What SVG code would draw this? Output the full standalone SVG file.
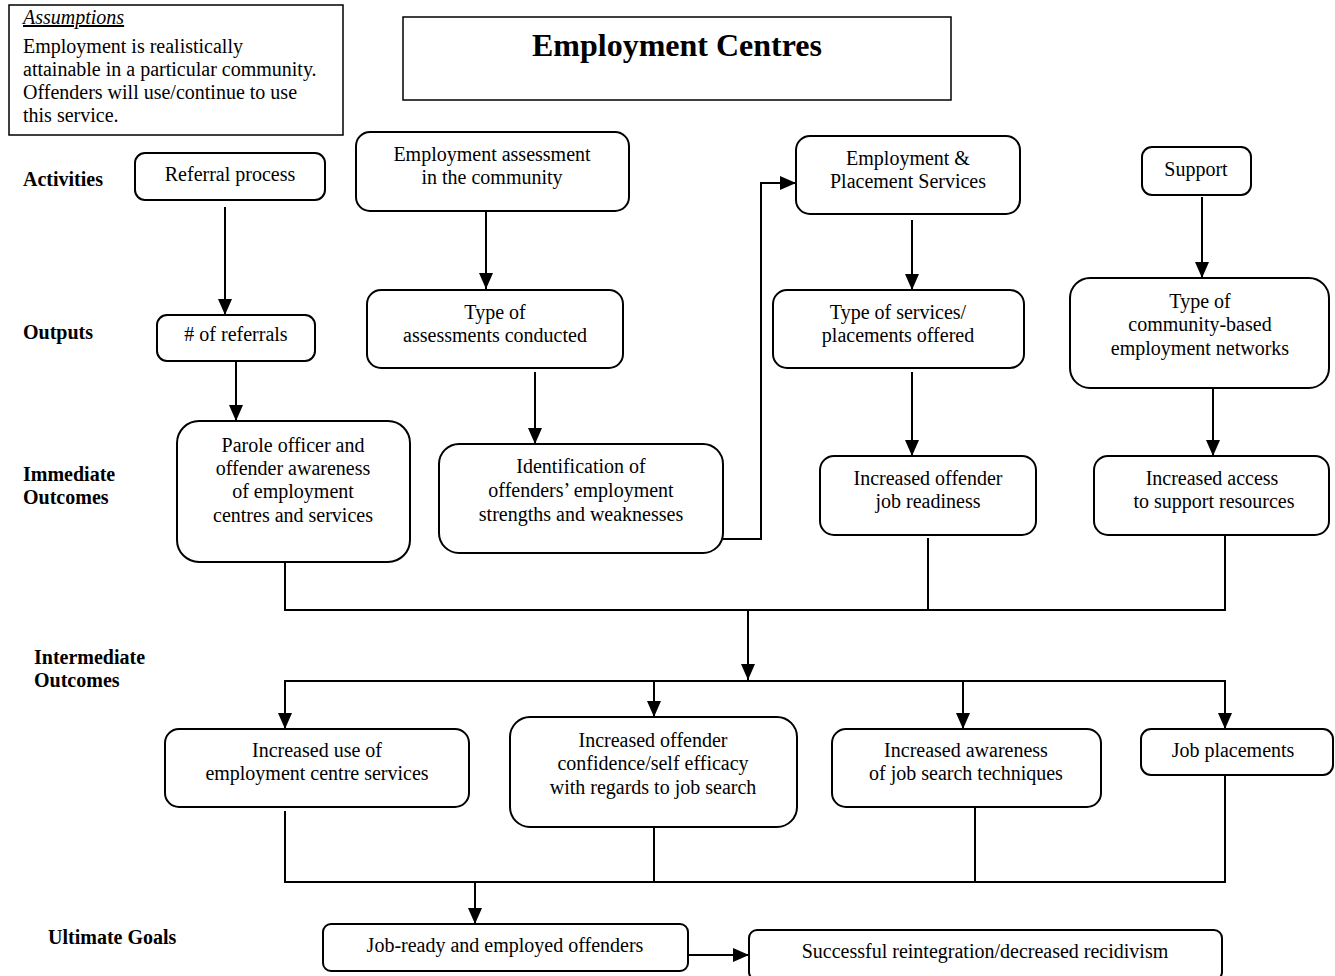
<svg xmlns="http://www.w3.org/2000/svg" width="1335" height="976" viewBox="0 0 1335 976">
<style>
.box{fill:#fff;stroke:#000;stroke-width:2}
.t{font-family:"Liberation Serif","Times New Roman",serif;font-size:20px;fill:#000;text-anchor:middle}
.a{font-family:"Liberation Serif","Times New Roman",serif;font-size:20px;fill:#000}
.lbl{font-family:"Liberation Serif","Times New Roman",serif;font-size:20px;font-weight:bold;fill:#000}
.ln{fill:none;stroke:#000;stroke-width:2}
</style>
<defs>
<marker id="ah" markerWidth="16" markerHeight="14" viewBox="0 0 16 14" refX="16" refY="7" orient="auto" markerUnits="userSpaceOnUse">
<path d="M0,0 L16,7 L0,14 Z" fill="#000"/>
</marker>
</defs>
<rect width="1335" height="976" fill="#fff"/>

<g id="assumptions">
<rect x="9" y="5" width="334" height="130" fill="#fff" stroke="#000" stroke-width="1.5"/>
<text class="a" x="23" y="24" style="font-style:italic;text-decoration:underline">Assumptions</text>
<text class="a" x="23" y="53">Employment is realistically</text>
<text class="a" x="23" y="76">attainable in a particular community.</text>
<text class="a" x="23" y="99">Offenders will use/continue to use</text>
<text class="a" x="23" y="122">this service.</text>
</g>

<g id="title">
<rect x="403" y="17" width="548" height="83" fill="#fff" stroke="#000" stroke-width="1.5"/>
<text x="677" y="56" style="font-family:'Liberation Serif',serif;font-size:32px;font-weight:bold;text-anchor:middle">Employment Centres</text>
</g>

<g id="row-labels">
<text class="lbl" x="23" y="186">Activities</text>
<text class="lbl" x="23" y="339">Outputs</text>
<text class="lbl" x="23" y="481">Immediate</text>
<text class="lbl" x="23" y="504">Outcomes</text>
<text class="lbl" x="34" y="664">Intermediate</text>
<text class="lbl" x="34" y="687">Outcomes</text>
<text class="lbl" x="48" y="944">Ultimate Goals</text>
</g>

<g id="connectors">
<line class="ln" x1="225" y1="207" x2="225" y2="315" marker-end="url(#ah)"/>
<line class="ln" x1="486" y1="211" x2="486" y2="289" marker-end="url(#ah)"/>
<line class="ln" x1="912" y1="220" x2="912" y2="290" marker-end="url(#ah)"/>
<line class="ln" x1="1202" y1="197" x2="1202" y2="278" marker-end="url(#ah)"/>
<line class="ln" x1="236" y1="361" x2="236" y2="421" marker-end="url(#ah)"/>
<line class="ln" x1="535" y1="372" x2="535" y2="444" marker-end="url(#ah)"/>
<line class="ln" x1="912" y1="372" x2="912" y2="456" marker-end="url(#ah)"/>
<line class="ln" x1="1213" y1="385" x2="1213" y2="456" marker-end="url(#ah)"/>
<polyline class="ln" points="723,539 761,539 761,183 796,183" marker-end="url(#ah)"/>
<polyline class="ln" points="285,562 285,610 1225,610 1225,535"/>
<line class="ln" x1="928" y1="538" x2="928" y2="610"/>
<line class="ln" x1="748" y1="610" x2="748" y2="680" marker-end="url(#ah)"/>
<line class="ln" x1="285" y1="681" x2="1225" y2="681"/>
<line class="ln" x1="285" y1="680" x2="285" y2="729" marker-end="url(#ah)"/>
<line class="ln" x1="654" y1="680" x2="654" y2="717" marker-end="url(#ah)"/>
<line class="ln" x1="963" y1="680" x2="963" y2="729" marker-end="url(#ah)"/>
<line class="ln" x1="1225" y1="680" x2="1225" y2="729" marker-end="url(#ah)"/>
<polyline class="ln" points="285,811 285,882 1225,882 1225,775"/>
<line class="ln" x1="654" y1="823" x2="654" y2="882"/>
<line class="ln" x1="975" y1="800" x2="975" y2="882"/>
<line class="ln" x1="475" y1="882" x2="475" y2="924" marker-end="url(#ah)"/>
<line class="ln" x1="688" y1="955" x2="749" y2="955" marker-end="url(#ah)"/>
</g>

<g id="referral-process">
<rect class="box" x="135" y="153" width="190" height="47" rx="10"/>
<text class="t" x="230" y="181">Referral process</text>
</g>
<g id="employment-assessment">
<rect class="box" x="356" y="132" width="273" height="79" rx="14"/>
<text class="t" x="492" y="161">Employment assessment</text>
<text class="t" x="492" y="184">in the community</text>
</g>
<g id="employment-placement">
<rect class="box" x="796" y="136" width="224" height="78" rx="14"/>
<text class="t" x="908" y="165">Employment &amp;</text>
<text class="t" x="908" y="188">Placement Services</text>
</g>
<g id="support">
<rect class="box" x="1142" y="147" width="109" height="48" rx="10"/>
<text class="t" x="1196" y="176">Support</text>
</g>

<g id="num-referrals">
<rect class="box" x="157" y="315" width="158" height="46" rx="10"/>
<text class="t" x="236" y="341"># of referrals</text>
</g>
<g id="type-assessments">
<rect class="box" x="367" y="290" width="256" height="78" rx="14"/>
<text class="t" x="495" y="319">Type of</text>
<text class="t" x="495" y="342">assessments conducted</text>
</g>
<g id="type-services">
<rect class="box" x="773" y="290" width="251" height="78" rx="14"/>
<text class="t" x="898" y="319">Type of services/</text>
<text class="t" x="898" y="342">placements offered</text>
</g>
<g id="type-networks">
<rect class="box" x="1070" y="278" width="259" height="110" rx="20"/>
<text class="t" x="1200" y="308">Type of</text>
<text class="t" x="1200" y="331">community-based</text>
<text class="t" x="1200" y="355">employment networks</text>
</g>

<g id="parole-awareness">
<rect class="box" x="177" y="421" width="233" height="141" rx="22"/>
<text class="t" x="293" y="452">Parole officer and</text>
<text class="t" x="293" y="475">offender awareness</text>
<text class="t" x="293" y="498">of employment</text>
<text class="t" x="293" y="522">centres and services</text>
</g>
<g id="identification">
<rect class="box" x="439" y="444" width="284" height="109" rx="20"/>
<text class="t" x="581" y="473">Identification of</text>
<text class="t" x="581" y="497">offenders’ employment</text>
<text class="t" x="581" y="521">strengths and weaknesses</text>
</g>
<g id="job-readiness">
<rect class="box" x="820" y="456" width="216" height="79" rx="14"/>
<text class="t" x="928" y="485">Increased offender</text>
<text class="t" x="928" y="508">job readiness</text>
</g>
<g id="support-access">
<rect class="box" x="1094" y="456" width="235" height="79" rx="14"/>
<text class="t" x="1212" y="485">Increased access</text>
<text class="t" x="1214" y="508">to support resources</text>
</g>

<g id="use-services">
<rect class="box" x="165" y="729" width="304" height="78" rx="14"/>
<text class="t" x="317" y="757">Increased use of</text>
<text class="t" x="317" y="780">employment centre services</text>
</g>
<g id="confidence">
<rect class="box" x="510" y="717" width="287" height="110" rx="20"/>
<text class="t" x="653" y="747">Increased offender</text>
<text class="t" x="653" y="770">confidence/self efficacy</text>
<text class="t" x="653" y="794">with regards to job search</text>
</g>
<g id="awareness-techniques">
<rect class="box" x="832" y="729" width="269" height="78" rx="14"/>
<text class="t" x="966" y="757">Increased awareness</text>
<text class="t" x="966" y="780">of job search techniques</text>
</g>
<g id="job-placements">
<rect class="box" x="1141" y="729" width="192" height="46" rx="10"/>
<text class="t" x="1233" y="757">Job placements</text>
</g>

<g id="job-ready">
<rect class="box" x="323" y="924" width="365" height="47" rx="8"/>
<text class="t" x="505" y="952">Job-ready and employed offenders</text>
</g>
<g id="reintegration">
<rect class="box" x="749" y="930" width="473" height="50" rx="8"/>
<text class="t" x="985" y="958">Successful reintegration/decreased recidivism</text>
</g>
</svg>
